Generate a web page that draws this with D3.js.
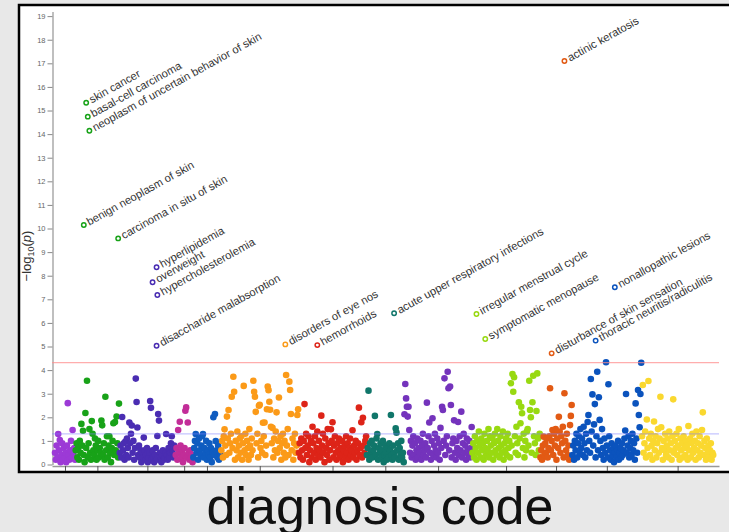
<!DOCTYPE html>
<html>
<head>
<meta charset="utf-8">
<script src="https://cdn.jsdelivr.net/npm/d3@7"></script>
<style>
  html, body { margin: 0; padding: 0; background: #e8e8e8; }
  #chart svg { display: block; }
</style>
</head>
<body>
<div id="chart"></div>
<script>
// --- CONFIGURATION ---
const WIDTH = 729;
const HEIGHT = 532;
const BOX = { left: 19, top: 5, bottom: 472 };
const PLOT = { left: 52, right: 719, top: 11.4, bottom: 464.5 };

// --- DATA ---
const categories = [
    "infectious diseases", "neoplasms", "endocrine/metabolic", "hematopoietic",
    "mental disorders", "sense organs", "circulatory system", "respiratory",
    "digestive", "genitourinary", "dermatologic", "musculoskeletal", "symptoms"
];

const categoryColors = [
    "#9c3ad6", "#18a218", "#4a2db2", "#c22d98", "#0f5cc0", "#fb9a18", "#dd2418",
    "#10766a", "#7433bc", "#98d911", "#e25a14", "#0b53bd", "#fad82f"
];

// -log10(p) per phecode, in code order within each category
const infectious = [.5,.2,.8,.3,1.29,.6,1.04,.1,.4,.9,.2,.7,.3,.5,.1,.8,2.6,.4,.2,.6,1.0,.3,1.46,.5,.7,.2];
const neoplasms = [.6,.9,.3,.7,.2,1.0,.5,1.72,.8,1.43,.4,.1,2.18,.7,3.55,.3,.9,1.5,.5,.2,1.84,1.3,.6,.4,1.1,.8,.2,.6,1.0,.3,.7,.5,1.86,1.66,.4,.9,.2,2.87,.6,1.2,.3,.8,1.2,.5,.1,.7,1.0,1.75,.4,1.8,.6,2.03,.9,.3,2.58];
const endocrine = [.5,.8,.3,2.01,.6,.9,.2,.97,.4,1.1,.7,.3,1.78,.9,1.3,1.65,.5,1.0,.2,.7,3.64,2.65,1.57,.4,.8,.3,.6,.1,.5,.3,1.14,.6,.2,.4,.7,.1,.3,.5,2.69,2.4,.2,.6,.3,.1,.4,.7,.2,1.21,2.14,1.86,.5,.3,.1,.4,.6,.2,.3,.5,1.29,.4,.2,.7,.3,.5,.9,1.2,.6,.3,.8,.4];
const hematopoietic = [.4,.7,.2,1.46,.5,1.81,.8,.3,.6,.1,.4,.7,2.28,2.42,.3,1.78,.5,.2,.6,.3,.4,.1];
const mental = [.3,.7,1.0,1.29,.5,.9,.2,1.1,.6,.4,.8,1.2,1.29,.3,.7,.5,1.0,.2,.6,.4,.9,.3,.7,.1,.5,2.0,.4,2.14,.99,.6,.3,.8,.2,.5,.4];
const senseOrgans = [.6,1.0,.3,1.2,1.49,.8,.4,2.03,1.1,2.31,.5,.9,1.3,2.87,.7,3.72,3.08,.2,1.0,.6,1.4,.3,.8,1.1,.5,1.2,.2,.9,3.33,.6,1.3,.4,1.0,.7,.2,1.5,.8,.4,1.1,.6,3.55,3.08,2.87,2.23,.9,1.3,.3,2.49,2.53,.7,1.0,.5,1.77,1.2,1.78,.4,.8,2.34,3.3,3.15,2.66,2.32,1.6,.9,1.55,.3,1.1,.6,1.4,2.21,.5,1.0,2.84,.7,1.2,.2,.9,1.3,.5,1.0,.3,3.79,.8,1.5,.4,3.51,3.16,2.14,.6,1.1,.2,.9,1.3,.5,.8,2.1,2.34];
const circulatory = [.5,.9,.3,1.1,.6,.2,1.0,2.56,.7,1.3,.4,.8,1.2,.1,.6,1.0,.3,1.6,.9,.5,1.2,.2,.7,1.4,.4,1.0,.6,.3,2.07,.8,1.3,.5,.1,1.1,.7,.4,1.5,.9,.2,.6,1.49,1.0,1.79,.3,.8,1.2,.5,.2,.9,.6,1.1,.3,.7,.4,1.0,.1,.6,.8,.3,1.2,.5,.9,.2,.7,1.1,.4,.6,1.45,.3,.8,.5,1.0,.2,.6,.9,2.41,.4,.7,1.79,.3,1.98,.8,.5,1.0,1.2];
const respiratory = [.4,.7,3.13,.2,.9,.5,1.0,.3,.6,.8,2.06,.4,1.1,1.29,.2,.7,.5,.9,.3,.6,1.0,.1,.4,.8,.5,.2,.7,.3,.9,.6,2.1,.4,.2,.8,.5,.3,1.53,1.35,.6,.9,.2,.7,.4,1.0,.3,.5,.1];
const digestive = [2.13,3.41,2.8,2.45,2.03,2.45,1.46,.5,1.0,.3,.8,1.2,.4,.9,.2,.6,1.1,.3,.7,.5,1.0,.2,.8,1.3,.4,.6,.9,.3,2.62,.7,1.2,1.78,.5,.2,1.0,1.96,.4,.8,1.3,.6,.3,1.1,.5,.9,.2,1.55,.7,2.45,2.31,1.0,3.65,.4,.8,1.2,3.93,3.23,.6,3.3,2.52,.3,.9,1.1,1.87,.5,.2,1.0,.7,1.8,.4,1.2,.6,2.24,.3,.9,1.3,.5,.8,.2,1.1,.6,.4,1.0,.3,.7,1.59];
const genitourinary = [.5,.9,.3,1.2,.7,.2,1.0,.5,1.4,.8,.3,1.1,.6,.9,.2,1.3,.7,.4,1.0,.6,1.5,.3,1.2,.8,.5,1.1,.2,.9,1.3,.6,.4,1.5,1.0,.7,.3,1.2,.8,.5,1.4,.2,.9,.6,1.1,.4,1.3,.7,1.0,.3,3.44,.8,3.83,3.08,3.7,1.2,.5,1.6,.9,.4,2.64,1.1,1.75,2.45,2.17,.7,1.3,.3,1.0,.6,1.4,1.5,.8,3.55,2.31,2.0,.5,2.64,3.76,1.2,.9,.4,2.27,3.86,1.1,.6,1.3];
const dermatologic = [.3,.6,.2,.8,1.18,.4,.9,.5,1.1,.3,.7,1.2,3.23,.6,1.0,1.46,.4,1.3,.8,1.5,.2,1.1,.7,2.02,1.4,.5,1.2,.9,1.6,.3,3.02,1.0,.6,1.3,.4,.8,.2,1.67,2.06,2.52];
const musculoskeletal = [.4,.8,.2,1.0,.6,1.3,.3,.9,1.2,.5,1.5,.7,1.1,.4,1.6,.9,.3,1.3,.6,1.8,2.1,1.0,.5,3.62,1.4,2.97,.8,1.7,2.56,.3,1.2,3.93,.6,2.85,1.89,1.0,.4,1.5,.7,.2,1.1,.5,4.33,.8,.3,3.4,1.2,.6,.2,.9,.4,.7,.1,.5,.8,.3,.6,1.0,.2,.5,.7,.3,.9,.4,.6,1.1,1.44,2.99,.5,.8,1.2,.3,.7,1.0,.4,1.3,.6,.9,.2,2.59,1.1,.5,3.16,2.1,1.58,2.99,4.31];
const symptoms = [1.2,3.37,.5,.9,1.4,.3,1.91,.7,3.54,1.1,.4,1.3,.8,.2,1.0,1.82,.6,1.2,.3,.9,1.5,.5,1.1,2.87,1.58,.7,.2,1.0,.6,1.3,.4,.8,1.1,.3,1.4,.6,.9,.2,1.2,2.76,.5,1.0,.7,1.3,.4,.8,1.5,.2,1.1,.6,.9,.3,1.2,.7,.4,1.0,.8,.2,1.63,.6,1.1,.3,.9,1.3,.5,.7,1.0,.2,1.4,.6,.9,.3,1.2,.5,.8,1.46,2.21,.4,1.0,.7,.2,1.1,.5,.8,.3,.6,.9,.2,.5,.4];

const seriesValues = [
    infectious, neoplasms, endocrine, hematopoietic, mental, senseOrgans, circulatory,
    respiratory, digestive, genitourinary, dermatologic, musculoskeletal, symptoms
];

// labelled hits: category index, position within category, -log10(p)
const hits = [
    { name: "skin cancer", group: 1, pos: 13, p: 15.33 },
    { name: "basal-cell carcinoma", group: 1, pos: 15, p: 14.74 },
    { name: "neoplasm of uncertain behavior of skin", group: 1, pos: 17, p: 14.14 },
    { name: "benign neoplasm of skin", group: 1, pos: 10, p: 10.15 },
    { name: "carcinoma in situ of skin", group: 1, pos: 53, p: 9.58 },
    { name: "hyperlipidemia", group: 2, pos: 46, p: 8.36 },
    { name: "overweight", group: 2, pos: 41, p: 7.72 },
    { name: "hypercholesterolemia", group: 2, pos: 47, p: 7.18 },
    { name: "disaccharide malabsorption", group: 2, pos: 46, p: 5.03 },
    { name: "disorders of eye nos", group: 5, pos: 80, p: 5.09 },
    { name: "hemorrhoids", group: 6, pos: 23, p: 5.06 },
    { name: "acute upper respiratory infections", group: 7, pos: 34, p: 6.41 },
    { name: "irregular menstrual cycle", group: 9, pos: 5, p: 6.38 },
    { name: "symptomatic menopause", group: 9, pos: 16, p: 5.32 },
    { name: "disturbance of skin sensation", group: 10, pos: 14, p: 4.71 },
    { name: "actinic keratosis", group: 10, pos: 30, p: 17.1 },
    { name: "thoracic neuritis/radiculitis", group: 11, pos: 29, p: 5.25 },
    { name: "nonallopathic lesions", group: 11, pos: 53, p: 7.51 }
];

const yTicks = [0,1,2,3,4,5,6,7,8,9,10,11,12,13,14,15,16,17,18,19];
const thresholds = [
    { value: 4.32, color: "#ff8a8a", opacity: 0.7 },  // bonferroni
    { value: 1.30, color: "#7f7fff", opacity: 0.45 }  // p = 0.05
];

function drawChart() {
    const counts = seriesValues.map(v => v.length);
    const starts = Array.from(d3.cumsum([0, ...counts])).slice(0, -1);
    const total = d3.sum(counts);

    const points = seriesValues.flatMap((vals, g) =>
        vals.map((v, i) => ({ group: g, idx: starts[g] + i, value: v })));

    // 1. Scales
    const x = d3.scaleLinear()
        .domain([-3.75, total + 6.25])
        .range([PLOT.left, PLOT.right]);

    const y = d3.scaleLinear()
        .domain([0, 19.2])
        .range([PLOT.bottom, PLOT.top]);

    const tickIdx = counts.map((n, g) => starts[g] + (n - 1) / 2);

    // 2. SVG
    const svg = d3.select("#chart")
        .append("svg")
        .attr("width", WIDTH)
        .attr("height", HEIGHT)
        .style("background", "#e8e8e8")
        .style("font-family", "'Liberation Sans', Arial, Helvetica, sans-serif");

    svg.append("rect")
        .attr("x", BOX.left)
        .attr("y", BOX.top)
        .attr("width", WIDTH + 40)
        .attr("height", BOX.bottom - BOX.top)
        .attr("fill", "white")
        .attr("stroke", "#000")
        .attr("stroke-width", 2.5);

    // 3. Axes
    svg.append("g")
        .attr("transform", `translate(${PLOT.left + 0.5},0)`)
        .call(d3.axisLeft(y).tickValues(yTicks).tickSize(5).tickSizeOuter(0).tickPadding(2))
        .call(g => g.select(".domain").attr("stroke", "#aaa").attr("stroke-width", 1.5))
        .call(g => g.selectAll(".tick line").attr("stroke", "#888"))
        .call(g => g.selectAll(".tick text")
            .attr("font-size", 7.5)
            .attr("fill", "#666")
            .attr("font-family", "'Liberation Sans', Arial, sans-serif"));

    svg.append("g")
        .attr("transform", `translate(0,${PLOT.bottom + 1.5})`)
        .call(d3.axisBottom(x).tickValues(tickIdx).tickFormat("").tickSize(5).tickSizeOuter(0))
        .call(g => g.select(".domain").attr("stroke", "#999").attr("stroke-width", 1.5))
        .call(g => g.selectAll(".tick line").attr("stroke", "#555"));

    // 4. Points
    svg.append("g")
        .selectAll("circle")
        .data(points)
        .join("circle")
        .attr("cx", d => x(d.idx))
        .attr("cy", d => y(d.value))
        .attr("r", 3.3)
        .attr("fill", d => categoryColors[d.group]);

    // 5. Threshold lines
    svg.append("g")
        .selectAll("line")
        .data(thresholds)
        .join("line")
        .attr("x1", PLOT.left)
        .attr("x2", PLOT.right)
        .attr("y1", d => y(d.value))
        .attr("y2", d => y(d.value))
        .attr("stroke", d => d.color)
        .attr("stroke-opacity", d => d.opacity)
        .attr("stroke-width", 1.2);

    // 6. Labelled hits
    const hit = svg.append("g")
        .selectAll("g")
        .data(hits)
        .join("g")
        .attr("transform", d => `translate(${x(starts[d.group] + d.pos)},${y(d.p)})`);

    hit.append("circle")
        .attr("r", 2.2)
        .attr("fill", "white")
        .attr("stroke", d => categoryColors[d.group])
        .attr("stroke-width", 1.5);

    hit.append("text")
        .attr("x", 4.5)
        .attr("dy", "0.3em")
        .attr("transform", "rotate(-29)")
        .attr("font-size", 11.2)
        .attr("fill", "#333")
        .text(d => d.name);

    // 7. Axis titles
    const yLabel = svg.append("text")
        .attr("transform", "translate(31,256) rotate(-90)")
        .attr("text-anchor", "middle")
        .attr("font-size", 13)
        .attr("fill", "#333");
    yLabel.append("tspan").text("\u2212log");
    yLabel.append("tspan").attr("font-size", 9).attr("dy", 3).text("10");
    yLabel.append("tspan").attr("dy", -3).text("(");
    yLabel.append("tspan").attr("font-style", "italic").text("p");
    yLabel.append("tspan").text(")");

    svg.append("text")
        .attr("x", 380)
        .attr("y", 524)
        .attr("text-anchor", "middle")
        .attr("font-size", 52)
        .attr("fill", "#111")
        .text("diagnosis code");
}

drawChart();
</script>
</body>
</html>
